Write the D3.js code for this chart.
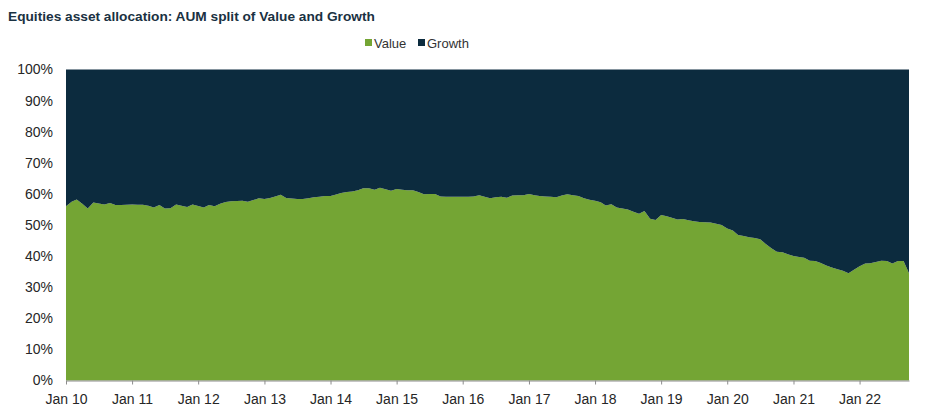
<!DOCTYPE html>
<html lang="en">
<head>
  <meta charset="UTF-8">
  <style>
    body { margin: 0; background: #fff; }
    svg { display: block; font-family: "Liberation Sans", Arial, sans-serif; }
    .title { font-size: 13.7px; font-weight: bold; fill: #1a3142; }
    .legend text { font-size: 13px; fill: #333; }
    .axis text { font-size: 14px; fill: #262626; font-family: "Liberation Sans", Arial, sans-serif; }
    .axis path, .axis line { stroke: #8c8c8c; }
  </style>
</head>
<body>
  <script src="https://d3js.org/d3.v7.min.js"></script>
  <svg></svg>
  <script>

// monthly series, Jan 2010 .. Oct 2022 (share of AUM in Value, %)
const startMonth = new Date(2010, 0, 1);
const valueShare = [
  56.0, 57.5, 58.2, 56.8, 55.3, 57.2, 56.9, 56.6, 57.1, 56.4, 56.4, 56.5,
  56.6, 56.5, 56.5, 56.2, 55.6, 56.4, 55.3, 55.4, 56.6, 56.2, 55.8, 56.6,
  56.1, 55.6, 56.4, 56.0, 56.8, 57.4, 57.6, 57.7, 57.8, 57.5, 58.0, 58.6,
  58.4, 58.7, 59.2, 59.7, 58.7, 58.5, 58.4, 58.4, 58.6, 58.9, 59.1, 59.3,
  59.3, 59.8, 60.3, 60.6, 60.8, 61.2, 61.8, 61.8, 61.3, 62.0, 61.5, 61.0,
  61.6, 61.3, 61.2, 61.2, 60.6, 59.9, 60.0, 60.0, 59.2, 59.1, 59.1, 59.1,
  59.1, 59.1, 59.2, 59.6, 59.1, 58.6, 58.9, 59.1, 58.8, 59.5, 59.6, 59.6,
  60.0, 59.6, 59.3, 59.2, 59.1, 58.9, 59.5, 59.9, 59.6, 59.3, 58.6, 58.1,
  57.8, 57.3, 56.3, 56.7, 55.6, 55.3, 55.0, 54.3, 53.6, 54.5, 52.0, 51.6,
  53.2, 52.8, 52.3, 51.8, 51.9, 51.5, 51.2, 51.0, 50.9, 50.8, 50.4, 50.0,
  48.9, 48.2, 46.8, 46.5, 46.1, 45.8, 45.4, 43.9, 42.5, 41.4, 41.2, 40.6,
  40.0, 39.7, 39.5, 38.5, 38.4, 37.8, 37.0, 36.3, 35.8, 35.3, 34.5, 35.6,
  36.7, 37.6, 37.7, 38.1, 38.5, 38.4, 37.6, 38.4, 38.4, 34.5
];
const growthShare = valueShare.map(v => 100 - v);
const seriesNames = ["Value", "Growth"];
const seriesColors = ["#74a534", "#0c2b3e"];
const yTicks = [0, 10, 20, 30, 40, 50, 60, 70, 80, 90, 100];
const xTickYears = d3.range(2010, 2023);

const w = 945;
const h = 407;
const margin = {top: 69.5, right: 36, bottom: 26.5, left: 66};

const rows = valueShare.map((v, i) => ({
  date: d3.timeMonth.offset(startMonth, i),
  Value: v,
  Growth: growthShare[i]
}));

const svg = d3.select("svg")
              .attr("width", w)
              .attr("height", h);

const x = d3.scaleTime()
            .domain(d3.extent(rows, d => d.date))
            .range([margin.left, w - margin.right]);

const y = d3.scaleLinear()
            .domain([0, 100])
            .range([h - margin.bottom, margin.top]);

const stacked = d3.stack().keys(seriesNames)(rows);

const area = d3.area()
               .x(d => x(d.data.date))
               .y0(d => y(d[0]))
               .y1(d => y(d[1]));

svg.append("g")
   .selectAll("path")
   .data(stacked)
   .enter()
   .append("path")
   .attr("fill", (d, i) => seriesColors[i])
   .attr("d", area);

// x axis
svg.append("g")
   .attr("class", "axis")
   .attr("transform", `translate(0, ${h - margin.bottom})`)
   .call(d3.axisBottom(x)
           .tickValues(xTickYears.map(yr => new Date(yr, 0, 1)))
           .tickFormat(d3.timeFormat("Jan %y"))
           .tickSize(4)
           .tickSizeOuter(0)
           .tickPadding(6))
   .call(g => g.selectAll("text").attr("dy", "0.95em"));

// y axis (labels only)
svg.append("g")
   .attr("class", "axis")
   .attr("transform", `translate(${margin.left}, 0)`)
   .call(d3.axisLeft(y)
           .tickValues(yTicks)
           .tickFormat(d => d + "%")
           .tickSize(0)
           .tickPadding(13))
   .call(g => g.select(".domain").remove());

// title
svg.append("text")
   .attr("class", "title")
   .attr("x", 8)
   .attr("y", 21)
   .text("Equities asset allocation: AUM split of Value and Growth");

// legend
const legendPos = [365, 418];
const legend = svg.append("g").attr("class", "legend");
seriesNames.forEach((name, i) => {
  legend.append("rect")
        .attr("x", legendPos[i])
        .attr("y", 39)
        .attr("width", 7)
        .attr("height", 7)
        .attr("fill", seriesColors[i]);
  legend.append("text")
        .attr("x", legendPos[i] + 9)
        .attr("y", 47.5)
        .text(name);
});

  </script>
</body>
</html>
